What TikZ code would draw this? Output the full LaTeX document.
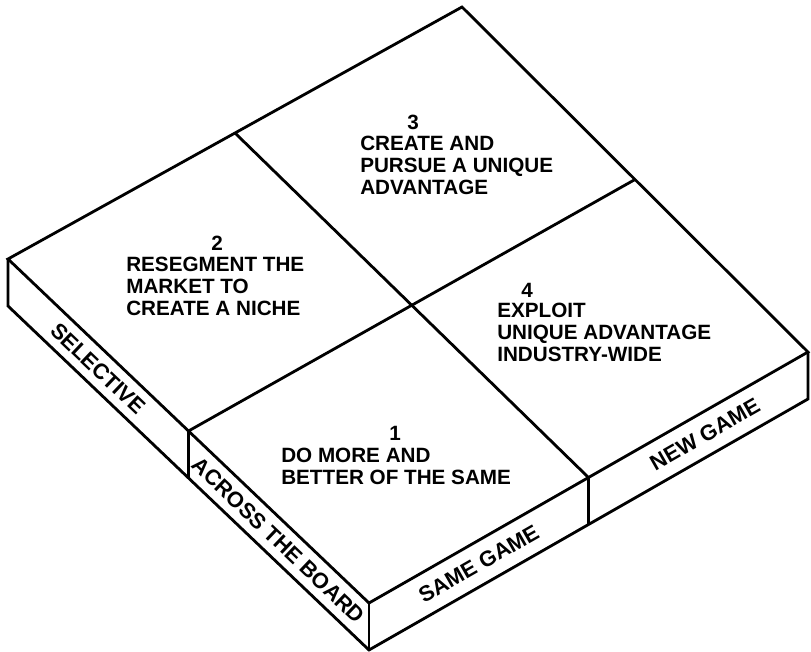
\documentclass[tikz,border=0pt]{standalone}
\usepackage{fontspec}
\setmainfont{Liberation Sans}
\usetikzlibrary{calc}

\begin{document}
\begin{tikzpicture}[x=0.025cm, y=-0.025cm,
    edge/.style={line width=2pt},
    quad/.style={align=left, inner sep=0pt, anchor=north west, font=\fontsize{14.7}{15.6}\selectfont\bfseries},
    num/.style={inner sep=0pt, font=\fontsize{14.7}{15.6}\selectfont\bfseries},
    side/.style={sloped, inner sep=0pt, font=\fontsize{15.5}{15.5}\selectfont\bfseries}]
  \useasboundingbox (0,0) rectangle (811,652);
  % top face
  \coordinate (L) at (8,259);
  \coordinate (T) at (462,7);
  \coordinate (R) at (808,352);
  \coordinate (B) at (369,603);
  \coordinate (LT) at ($(L)!0.5!(T)$);
  \coordinate (TR) at ($(T)!0.5!(R)$);
  \coordinate (RB) at ($(R)!0.5!(B)$);
  \coordinate (BL) at ($(B)!0.5!(L)$);
  % underside of the slab
  \coordinate (Ld) at ($(L)+(0,47)$);
  \coordinate (BLd) at ($(BL)+(0,47)$);
  \coordinate (Bd) at ($(B)+(0,47)$);
  \coordinate (RBd) at ($(RB)+(0,47)$);
  \coordinate (Rd) at ($(R)+(0,47)$);

  \draw[edge] (L) -- (T) -- (R) -- (B) -- cycle;
  \draw[edge] (LT) -- (RB);
  \draw[edge] (TR) -- (BL);
  \draw[edge] (L) -- (Ld) -- (Bd) -- (Rd) -- (R);
  \draw[edge] (BL) -- (BLd);
  \draw[edge] (B) -- (Bd);
  \draw[edge] (RB) -- (RBd);

  % quadrants
  \node[num] (n3) at (413,122) {3};
  \node[quad] (q3) at (360,136) {CREATE AND\\PURSUE A UNIQUE\\ADVANTAGE};
  \node[num] (n2) at (217,243) {2};
  \node[quad] (q2) at (126,257) {RESEGMENT THE\\MARKET TO\\CREATE A NICHE};
  \node[num] (n4) at (527,290) {4};
  \node[quad] (q4) at (497,303) {EXPLOIT\\UNIQUE ADVANTAGE\\INDUSTRY-WIDE};
  \node[num] (n1) at (395,433) {1};
  \node[quad] (q1) at (281,448) {DO MORE AND\\BETTER OF THE SAME};

  % side labels
  \path ($(L)!0.5!(Ld)$) -- node[side] (sel) {SELECTIVE} ($(BL)!0.5!(BLd)$);
  \path ($(BL)!0.5!(BLd)$) -- node[side] (atb) {ACROSS THE BOARD} ($(B)!0.5!(Bd)$);
  \path ($(B)!0.5!(Bd)$) -- node[side] (same) {SAME GAME} ($(RB)!0.5!(RBd)$);
  \path ($(RB)!0.5!(RBd)$) -- node[side, pos=0.53] (new) {NEW GAME} ($(R)!0.5!(Rd)$);
\end{tikzpicture}
\end{document}
